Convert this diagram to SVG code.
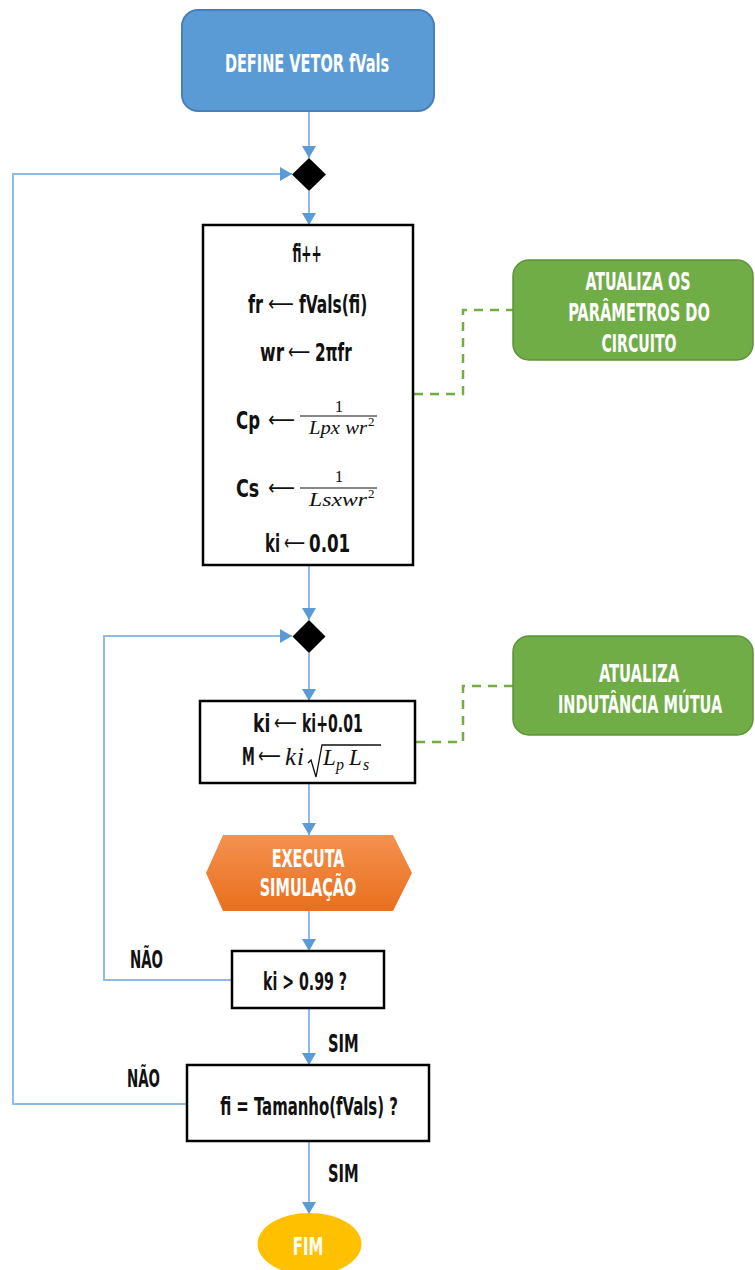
<svg xmlns="http://www.w3.org/2000/svg" width="755" height="1270" viewBox="0 0 755 1270">
<style>
.t{font-family:"Liberation Sans Narrow","DejaVu Sans Condensed","Liberation Sans",sans-serif;font-weight:bold;font-size:25px;fill:#111;}
.w{fill:#fff;}
.a{font-family:"DejaVu Sans","Liberation Sans",sans-serif;font-weight:normal;font-size:22px;fill:#111;}
.m{font-family:"Liberation Serif","DejaVu Serif",serif;font-style:italic;font-size:19px;fill:#111;}
.n{font-family:"Liberation Serif","DejaVu Serif",serif;font-size:17px;fill:#111;}
.box{fill:#fff;stroke:#000;stroke-width:2.5;}
.green{fill:#70ad47;stroke:#5e9438;stroke-width:1.5;}
.con{fill:none;stroke:#8fbbe6;stroke-width:2;}
.dash{fill:none;stroke:#70ad47;stroke-width:2.5;stroke-dasharray:9 7;}
</style>
<defs>
<marker id="ah" markerUnits="userSpaceOnUse" markerWidth="14" markerHeight="14" viewBox="0 0 12 14" refX="12" refY="7" orient="auto">
<path d="M0,0 L12,7 L0,14 z" fill="#5b9bd5"/>
</marker>
<linearGradient id="og" x1="0" y1="0" x2="0" y2="1">
<stop offset="0" stop-color="#f4914f"/>
<stop offset="1" stop-color="#e96f1e"/>
</linearGradient>
</defs>
<g id="connectors">
<path class="con" d="M309,111 V158" marker-end="url(#ah)"/>
<path class="con" d="M309,191 V225" marker-end="url(#ah)"/>
<path class="con" d="M309,565 V620" marker-end="url(#ah)"/>
<path class="con" d="M309,653 V701" marker-end="url(#ah)"/>
<path class="con" d="M309,783 V835" marker-end="url(#ah)"/>
<path class="con" d="M309,911 V951" marker-end="url(#ah)"/>
<path class="con" d="M309,1008 V1065" marker-end="url(#ah)"/>
<path class="con" d="M309,1141 V1214" marker-end="url(#ah)"/>
<path class="con" d="M187,1104 H13 V174 H292" marker-end="url(#ah)"/>
<path class="con" d="M232,980 H104 V636 H292" marker-end="url(#ah)"/>
<path class="dash" d="M414,394 H463 V310 H513"/>
<path class="dash" d="M416,742 H463 V686 H513"/>
</g>
<g id="start">
<rect x="182" y="10" width="252" height="101" rx="16" fill="#5b9bd5" stroke="#4a80b8" stroke-width="2"/>
<text class="t w" transform="translate(307,72) scale(0.75,1)" text-anchor="middle" textLength="219" lengthAdjust="spacingAndGlyphs">DEFINE VETOR fVals</text>
</g>
<g id="merge1"><path d="M309,158 L326,174.5 L309,191 L292,174.5 z" fill="#000"/></g>
<g id="params">
<rect class="box" x="203" y="225" width="210" height="340"/>
<text class="t" transform="translate(307,262) scale(0.75,1)" text-anchor="middle" textLength="39" lengthAdjust="spacingAndGlyphs">fi++</text>
<text class="t" transform="translate(248,313) scale(0.75,1)" textLength="20" lengthAdjust="spacingAndGlyphs">fr</text>
<text class="a" transform="translate(268,311) scale(0.6,1)" textLength="43" lengthAdjust="spacingAndGlyphs">⟵</text>
<text class="t" transform="translate(299,313) scale(0.75,1)" textLength="91" lengthAdjust="spacingAndGlyphs">fVals(fi)</text>
<text class="t" transform="translate(260,361) scale(0.75,1)" textLength="32" lengthAdjust="spacingAndGlyphs">wr</text>
<text class="a" transform="translate(288,359) scale(0.6,1)" textLength="37" lengthAdjust="spacingAndGlyphs">⟵</text>
<text class="t" transform="translate(315,361) scale(0.75,1)" textLength="49" lengthAdjust="spacingAndGlyphs">2πfr</text>
<text class="t" transform="translate(236,429) scale(0.75,1)" textLength="32" lengthAdjust="spacingAndGlyphs">Cp</text>
<text class="a" transform="translate(268,427) scale(0.6,1)" textLength="45" lengthAdjust="spacingAndGlyphs">⟵</text>
<text class="n" x="339" y="412" text-anchor="middle">1</text>
<line x1="300" y1="416" x2="377" y2="416" stroke="#111" stroke-width="1.2"/>
<text class="m" x="309" y="434" textLength="58" lengthAdjust="spacingAndGlyphs">Lpx wr</text>
<text class="n" x="368" y="426" style="font-size:13px">2</text>
<text class="t" transform="translate(236,497) scale(0.75,1)" textLength="31" lengthAdjust="spacingAndGlyphs">Cs</text>
<text class="a" transform="translate(268,495) scale(0.6,1)" textLength="45" lengthAdjust="spacingAndGlyphs">⟵</text>
<text class="n" x="339" y="482" text-anchor="middle">1</text>
<line x1="300" y1="488" x2="377" y2="488" stroke="#111" stroke-width="1.2"/>
<text class="m" x="309" y="506" textLength="58" lengthAdjust="spacingAndGlyphs">Lsxwr</text>
<text class="n" x="368" y="498" style="font-size:13px">2</text>
<text class="t" transform="translate(265,552) scale(0.75,1)" textLength="20" lengthAdjust="spacingAndGlyphs">ki</text>
<text class="a" transform="translate(284,550) scale(0.6,1)" textLength="35" lengthAdjust="spacingAndGlyphs">⟵</text>
<text class="t" transform="translate(309,552) scale(0.75,1)" textLength="55" lengthAdjust="spacingAndGlyphs">0.01</text>
</g>
<g id="note1">
<rect class="green" x="513" y="260" width="240" height="100" rx="16"/>
<text class="t w" transform="translate(638,290) scale(0.75,1)" text-anchor="middle" textLength="140" lengthAdjust="spacingAndGlyphs">ATUALIZA OS</text>
<text class="t w" transform="translate(639,321) scale(0.75,1)" text-anchor="middle" textLength="189" lengthAdjust="spacingAndGlyphs">PARÂMETROS DO</text>
<text class="t w" transform="translate(639,352) scale(0.75,1)" text-anchor="middle" textLength="100" lengthAdjust="spacingAndGlyphs">CIRCUITO</text>
</g>
<g id="merge2"><path d="M309,620 L325.5,636.5 L309,653 L292.5,636.5 z" fill="#000"/></g>
<g id="mutual">
<rect class="box" x="200" y="701" width="215" height="82"/>
<text class="t" transform="translate(253,732) scale(0.75,1)" textLength="23" lengthAdjust="spacingAndGlyphs">ki</text>
<text class="a" transform="translate(274,730) scale(0.6,1)" textLength="38" lengthAdjust="spacingAndGlyphs">⟵</text>
<text class="t" transform="translate(302,732) scale(0.75,1)" textLength="81" lengthAdjust="spacingAndGlyphs">ki+0.01</text>
<text class="t" transform="translate(242,765) scale(0.75,1)" textLength="17" lengthAdjust="spacingAndGlyphs">M</text>
<text class="a" transform="translate(258,763) scale(0.6,1)" textLength="38" lengthAdjust="spacingAndGlyphs">⟵</text>
<text class="m" x="285" y="765" style="font-size:25px;letter-spacing:1px">ki</text>
<path d="M308,763 L311,760 L316,777 L322,745 H381" fill="none" stroke="#111" stroke-width="1.3"/>
<text class="m" x="323" y="765" style="font-size:23px">L</text>
<text class="m" x="336" y="770" style="font-size:16px">p</text>
<text class="m" x="349" y="765" style="font-size:23px">L</text>
<text class="m" x="363" y="770" style="font-size:16px">s</text>
</g>
<g id="note2">
<rect class="green" x="513" y="636" width="240" height="99" rx="16"/>
<text class="t w" transform="translate(639,682) scale(0.75,1)" text-anchor="middle" textLength="107" lengthAdjust="spacingAndGlyphs">ATUALIZA</text>
<text class="t w" transform="translate(640,713) scale(0.75,1)" text-anchor="middle" textLength="219" lengthAdjust="spacingAndGlyphs">INDUTÂNCIA MÚTUA</text>
</g>
<g id="simulate">
<path d="M223,835 H393 L412,873 L393,911 H223 L206,873 z" fill="url(#og)"/>
<text class="t w" transform="translate(308,867) scale(0.75,1)" text-anchor="middle" textLength="97" lengthAdjust="spacingAndGlyphs">EXECUTA</text>
<text class="t w" transform="translate(308,896) scale(0.75,1)" text-anchor="middle" textLength="129" lengthAdjust="spacingAndGlyphs">SIMULAÇÃO</text>
</g>
<g id="check-ki">
<rect class="box" x="232" y="951" width="152" height="57"/>
<text class="t" transform="translate(305,990) scale(0.75,1)" text-anchor="middle" textLength="112" lengthAdjust="spacingAndGlyphs">ki &gt; 0.99 ?</text>
</g>
<g id="check-fi">
<rect class="box" x="187" y="1065" width="242" height="76"/>
<text class="t" transform="translate(309,1115) scale(0.75,1)" text-anchor="middle" textLength="237" lengthAdjust="spacingAndGlyphs">fi = Tamanho(fVals) ?</text>
</g>
<g id="end">
<ellipse cx="309.5" cy="1244" rx="52" ry="31" fill="#ffc000"/>
<text class="t w" transform="translate(308,1255) scale(0.75,1)" text-anchor="middle" textLength="41" lengthAdjust="spacingAndGlyphs">FIM</text>
</g>
<g id="labels">
<text class="t" transform="translate(130,968) scale(0.75,1)" textLength="44" lengthAdjust="spacingAndGlyphs">NÃO</text>
<text class="t" transform="translate(328,1052) scale(0.75,1)" textLength="41" lengthAdjust="spacingAndGlyphs">SIM</text>
<text class="t" transform="translate(127,1087) scale(0.75,1)" textLength="44" lengthAdjust="spacingAndGlyphs">NÃO</text>
<text class="t" transform="translate(328,1182) scale(0.75,1)" textLength="41" lengthAdjust="spacingAndGlyphs">SIM</text>
</g>
</svg>
